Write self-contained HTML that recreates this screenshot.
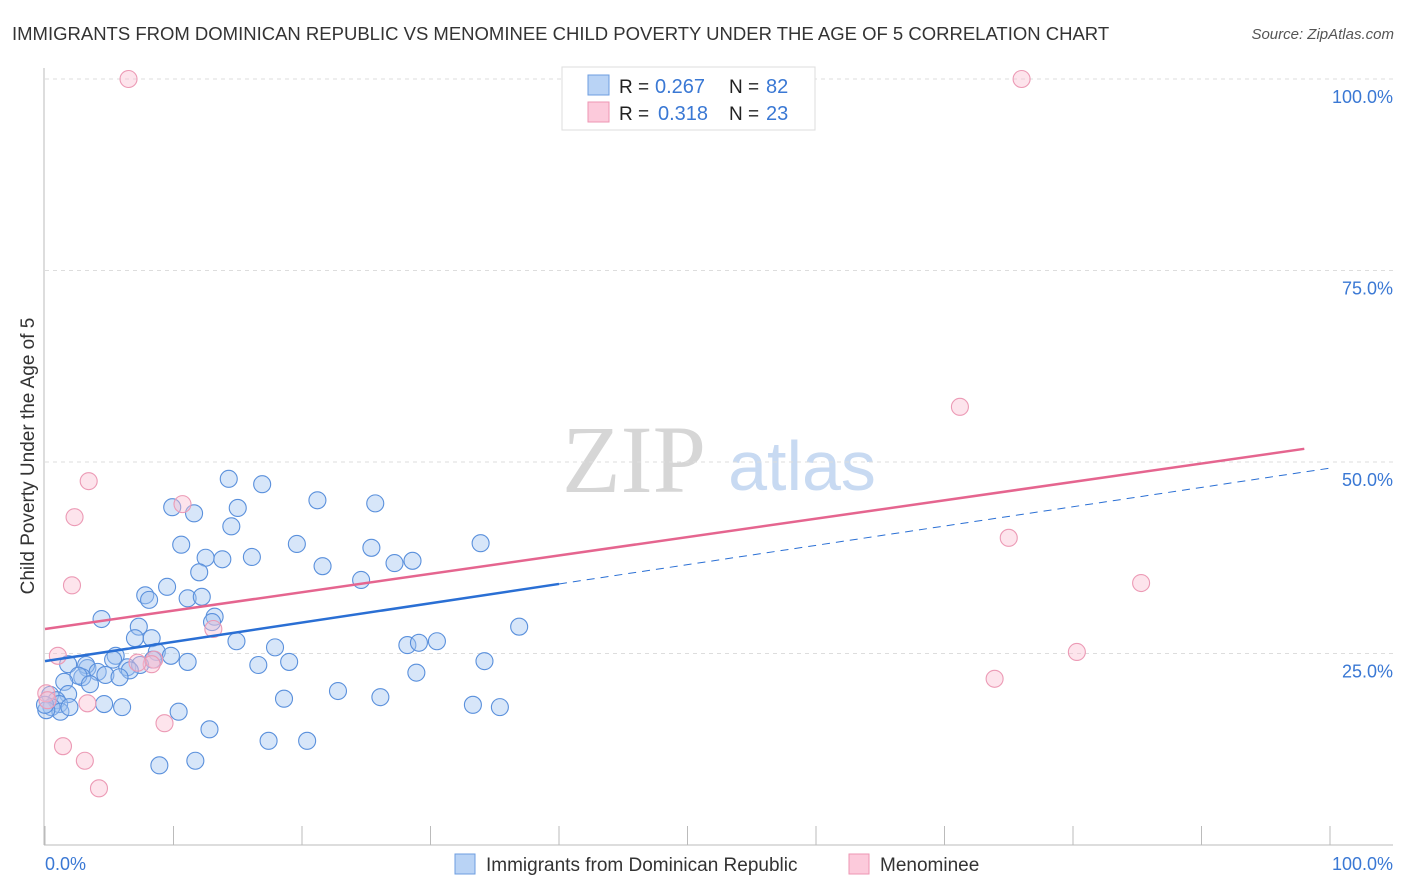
<!DOCTYPE html>
<html><head><meta charset="utf-8">
<style>
body{margin:0;background:#fff;font-family:"Liberation Sans",sans-serif;}
#wrap{position:relative;width:1406px;height:892px;overflow:hidden;}
svg{position:absolute;left:0;top:0;}
</style></head>
<body>
<div id="wrap">
<svg id="chart" width="1406" height="892">
<text x="12" y="40" font-size="18.5" fill="#333">IMMIGRANTS FROM DOMINICAN REPUBLIC VS MENOMINEE CHILD POVERTY UNDER THE AGE OF 5 CORRELATION CHART</text>
<text x="1394" y="39" font-size="15" fill="#555" font-style="italic" text-anchor="end">Source: ZipAtlas.com</text>
<text x="634" y="492" font-size="96" fill="#d6d6d6" font-family="Liberation Serif,serif" text-anchor="middle">ZIP</text>
<text x="802" y="490" font-size="70" fill="#c8daf2" text-anchor="middle">atlas</text>
<g id="grid"></g><g id="axes"></g><g id="pts"></g><g id="trends"></g>
<text transform="translate(34,456) rotate(-90)" font-size="19" fill="#333" text-anchor="middle">Child Poverty Under the Age of 5</text>
<text x="45" y="870" font-size="18" fill="#3a78d4">0.0%</text>
<text x="1393" y="870" font-size="18" fill="#3a78d4" text-anchor="end">100.0%</text>
<g>
<rect x="562" y="67" width="253" height="63" fill="#fff" stroke="#ddd"/>
<rect x="588" y="75" width="21" height="20" fill="#b9d3f5" stroke="#6d9ee0"/>
<rect x="588" y="102" width="21" height="20" fill="#fccadb" stroke="#ee96b3"/>
<text x="619" y="93" font-size="19" fill="#222">R =</text>
<text x="655" y="93" font-size="20" fill="#3a78d4">0.267</text>
<text x="729" y="93" font-size="19" fill="#222">N =</text>
<text x="766" y="93" font-size="20" fill="#3a78d4">82</text>
<text x="619" y="120" font-size="19" fill="#222">R =</text>
<text x="658" y="120" font-size="20" fill="#3a78d4">0.318</text>
<text x="729" y="120" font-size="19" fill="#222">N =</text>
<text x="766" y="120" font-size="20" fill="#3a78d4">23</text>
</g>
<g>
<rect x="455" y="854" width="20" height="20" fill="#b9d3f5" stroke="#6d9ee0"/>
<text x="486" y="871" font-size="19" fill="#333">Immigrants from Dominican Republic</text>
<rect x="849" y="854" width="20" height="20" fill="#fccadb" stroke="#ee96b3"/>
<text x="880" y="871" font-size="19" fill="#333">Menominee</text>
</g>
</svg>
</div>
<script>
const yTicks=[25,50,75,100];
const yTickLabels=["25.0%","50.0%","75.0%","100.0%"];
const xTicks=[0,10,20,30,40,50,60,70,80,90,100];
const blueX=[14.3,16.9,9.9,11.6,15.0,21.2,25.7,14.5,10.6,19.6,33.9,25.4,12.5,13.8,16.1,12.0,21.6,27.2,28.6,24.6,9.5,7.8,8.1,11.1,12.2,13.2,13.0,4.4,7.3,36.9,7.0,8.3,14.9,17.9,28.2,29.1,30.5,8.7,9.8,5.5,5.3,8.4,6.4,11.1,19.0,16.6,34.2,3.3,3.2,1.8,7.4,6.6,4.1,2.9,2.6,4.7,5.8,1.5,3.5,28.9,1.8,0.4,0.9,1.1,0.5,1.2,1.9,4.6,6.0,18.6,22.8,26.1,33.3,35.4,10.4,12.8,17.4,20.4,8.9,11.7,0.1,0.0];
const blueY=[47.8,47.1,44.1,43.3,44.0,45.0,44.6,41.6,39.2,39.3,39.4,38.8,37.5,37.3,37.6,35.6,36.4,36.8,37.1,34.6,33.7,32.6,32.0,32.2,32.4,29.8,29.1,29.5,28.5,28.5,27.0,27.0,26.6,25.8,26.1,26.4,26.6,25.2,24.7,24.7,24.2,24.2,23.2,23.9,23.9,23.5,24.0,23.1,23.5,23.6,23.5,22.8,22.6,21.9,22.1,22.2,21.9,21.3,21.0,22.5,19.7,19.6,18.9,18.4,18.0,17.4,18.0,18.4,18.0,19.1,20.1,19.3,18.3,18.0,17.4,15.1,13.6,13.6,10.4,11.0,17.6,18.3];
const pinkX=[6.5,76.0,3.4,2.3,10.7,2.1,71.2,75.0,85.3,80.3,73.9,13.1,8.5,8.3,7.2,1.0,3.3,1.4,3.1,4.2,9.3,0.1,0.2];
const pinkY=[100,100,47.5,42.8,44.5,33.9,57.2,40.1,34.2,25.2,21.7,28.2,24.2,23.6,23.8,24.7,18.5,12.9,11.0,7.4,15.9,19.8,18.9];
const blueTrend=[24.0,49.2];
const pinkTrend=[28.2,52.2];
const blueSolidEnd=40;
const pinkEnd=98;

const NS="http://www.w3.org/2000/svg";
const X0=45,X1=1330,Y0=845,Y100=79;
const sx=v=>X0+(X1-X0)*v/100;
const sy=v=>Y0-(Y0-Y100)*v/100;
function mk(tag,attrs,parent){const e=document.createElementNS(NS,tag);for(const k in attrs)e.setAttribute(k,attrs[k]);parent.appendChild(e);return e;}
const grid=document.getElementById('grid'),axes=document.getElementById('axes'),pts=document.getElementById('pts'),tr=document.getElementById('trends');
yTicks.forEach((t,i)=>{
  const l=mk('line',{x1:45,x2:1393,y1:sy(t),y2:sy(t),stroke:'#ddd','stroke-dasharray':'4,4'},grid);
  
  
  const tx=mk('text',{x:1393,y:sy(t)+24,'font-size':18,fill:'#3a78d4','text-anchor':'end'},grid);
  tx.textContent=yTickLabels[i];
  
  
});
let a=mk('line',{x1:44,x2:44,y1:68,y2:845,stroke:'#bbb'},axes);


a=mk('line',{x1:44,x2:1393,y1:845,y2:845,stroke:'#bbb'},axes);


xTicks.forEach(t=>{
  const l=mk('line',{x1:sx(t),x2:sx(t),y1:826,y2:845,stroke:'#bbb'},axes);
  
  
});
blueX.forEach((v,i)=>{
  const c=mk('circle',{cx:sx(v),cy:sy(blueY[i]),r:8.5,fill:'rgba(160,196,240,0.42)',stroke:'#5a90dc','stroke-width':1.1},pts);
  
  
});
pinkX.forEach((v,i)=>{
  const c=mk('circle',{cx:sx(v),cy:sy(pinkY[i]),r:8.5,fill:'rgba(250,190,210,0.42)',stroke:'#ec9ab5','stroke-width':1.1},pts);
  
  
});
const ty=(tr0,x)=>tr0[0]+(tr0[1]-tr0[0])*x/100;
let l=mk('line',{x1:sx(0),y1:sy(ty(blueTrend,0)),x2:sx(blueSolidEnd),y2:sy(ty(blueTrend,blueSolidEnd)),stroke:'#2a6fd4','stroke-width':2.5},tr);


l=mk('line',{x1:sx(blueSolidEnd),y1:sy(ty(blueTrend,blueSolidEnd)),x2:sx(100),y2:sy(ty(blueTrend,100)),stroke:'#2a6fd4','stroke-width':1,'stroke-dasharray':'8,6'},tr);


l=mk('line',{x1:sx(0),y1:sy(ty(pinkTrend,0)),x2:sx(pinkEnd),y2:sy(ty(pinkTrend,pinkEnd)),stroke:'#e5658f','stroke-width':2.5},tr);


</script>
</body></html>
